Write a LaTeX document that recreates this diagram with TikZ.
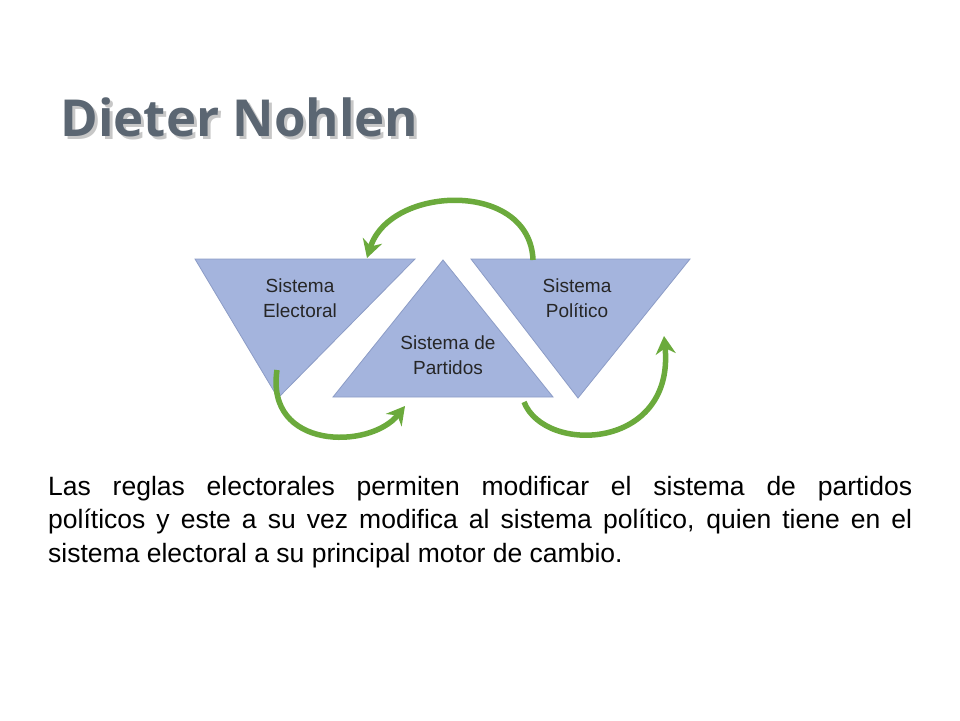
\documentclass[tikz,border=0pt]{standalone}
\usepackage{fontspec}
\setmainfont{Liberation Sans}
\newfontfamily\titlefont{Open Sans}
\usetikzlibrary{arrows.meta}
\definecolor{triblue}{HTML}{A4B4DD}
\definecolor{triedge}{HTML}{8C9CC6}
\definecolor{arrgreen}{HTML}{6BAA3C}
\definecolor{titlegray}{HTML}{5B6672}
\tikzset{
  tri/.style={fill=triblue,draw=triedge,line width=0.8pt},
  lbl/.style={align=center,font=\fontsize{19}{25}\selectfont,text=black!85},
  loop/.style={draw=arrgreen,line width=5.5pt,-{Stealth[length=18pt,width=20pt]}}
}
\begin{document}
\begin{tikzpicture}[x=1pt,y=-1pt]
        \useasboundingbox (0,0) rectangle (960,720);

        \node (shadow) [anchor=base west,font=\titlefont\bfseries\fontsize{51}{55}\selectfont,text=black!22] at (60,139) {Dieter Nohlen};
        \node (title) [anchor=base west,font=\titlefont\bfseries\fontsize{51}{55}\selectfont,text=titlegray] at (57,136) {Dieter Nohlen};

        \draw [tri] (195,259) -- (415,259) -- (278,398) -- cycle;
        \draw [tri] (443,260) -- (553,397) -- (333,397) -- cycle;
        \draw [tri] (471,259) -- (690,259) -- (578,398) -- cycle;

        \node (elect) [lbl] at (300,298) {Sistema\\Electoral};
        \node (part) [lbl] at (448,355) {Sistema de\\Partidos};
        \node (polit) [lbl] at (577,298) {Sistema\\Político};

        \coordinate (a1) at (533,260);
        \coordinate (a2) at (367,258);
        \coordinate (b1) at (277,370);
        \coordinate (b2) at (405,406);
        \coordinate (c1) at (524,402);
        \coordinate (c2) at (664,336);

        \draw [loop] (a1) .. controls (530,180) and (390,185) .. (a2);
        \draw [loop] (b1) .. controls (265,450) and (370,450) .. (b2);
        \draw [loop] (c1) .. controls (545,455) and (675,450) .. (c2);

        \node (body) [anchor=north west,text width=864pt,align=justify,font=\fontsize{26.5}{33.5}\selectfont,inner sep=0pt] at (48,476)
          {Las reglas electorales permiten modificar el sistema de partidos\linebreak políticos y este a su vez modifica al sistema político, quien tiene en el\linebreak sistema electoral a su principal motor de cambio.};
\end{tikzpicture}
\end{document}
